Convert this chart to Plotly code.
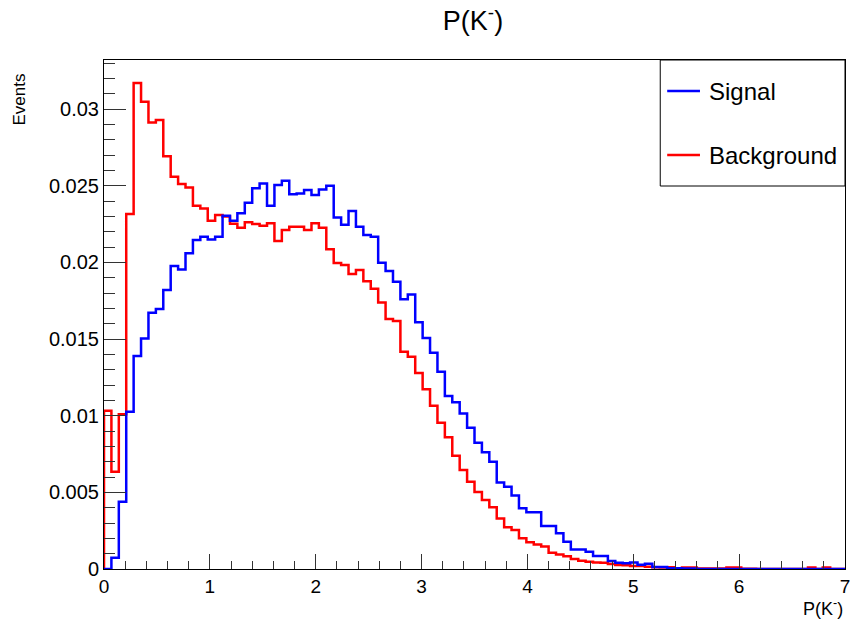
import numpy as np
import plotly.graph_objects as go

# Histogram: 100 bins from 0 to 7
x_min, x_max, n_bins = 0.0, 7.0, 100

signal = [
    0.0, 0.00074, 0.00439, 0.01026, 0.01389, 0.01504, 0.01672, 0.01696, 0.0182, 0.01976,
    0.01954, 0.02059, 0.02146, 0.02167, 0.0215, 0.02167, 0.02304, 0.02272, 0.0232, 0.02389,
    0.02483, 0.02515, 0.0237, 0.02504, 0.02533, 0.02444, 0.0245, 0.02472, 0.02439, 0.02476,
    0.025, 0.02293, 0.02245, 0.02335, 0.02233, 0.02178, 0.02167, 0.01998, 0.01944, 0.01874,
    0.01759, 0.01791, 0.01609, 0.01506, 0.0141, 0.01287, 0.01129, 0.01087, 0.01015, 0.00922,
    0.00824, 0.00761, 0.007, 0.00564, 0.00537, 0.0048, 0.00396, 0.0037, 0.0037, 0.0028,
    0.0028, 0.00233, 0.00178, 0.00128, 0.00128, 0.00113, 0.00085, 0.00085, 0.00052, 0.0004,
    0.00037, 0.00042, 0.00028, 0.00035, 0.00013, 0.00013, 0.00005, 0.00005, 0.00003, 0.00003,
    0.0, 0.0, 0.0, 0.0, 0.0, 0.0, 0.0, 0.0, 0.0, 0.0,
    0.0, 0.0, 0.0, 0.0, 0.0, 0.0, 0.0, 0.0, 0.0, 0.0,
]

background = [
    0.01033, 0.00635, 0.01009, 0.02315, 0.0317, 0.03048, 0.02913, 0.02928, 0.02693, 0.02559,
    0.02511, 0.02489, 0.0237, 0.02352, 0.02272, 0.02309, 0.0230, 0.02252, 0.02226, 0.02261,
    0.0225, 0.02239, 0.02255, 0.02139, 0.02211, 0.02233, 0.02233, 0.02211, 0.02255, 0.02226,
    0.02086, 0.01996, 0.01983, 0.01924, 0.0195, 0.01877, 0.01828, 0.01738, 0.0163, 0.01618,
    0.01417, 0.01385, 0.01278, 0.01172, 0.01065, 0.00954, 0.00859, 0.00739, 0.00646, 0.00569,
    0.00502, 0.0045, 0.00402, 0.0033, 0.00272, 0.00254, 0.002, 0.00174, 0.0016, 0.00146,
    0.00106, 0.00095, 0.00083, 0.00065, 0.00054, 0.00048, 0.00042, 0.0004, 0.00032, 0.00026,
    0.00024, 0.0002, 0.0002, 0.00015, 0.00012, 0.0001, 0.00012, 0.00005, 0.0001, 0.0001,
    0.00003, 0.00003, 0.00003, 0.00003, 0.0001, 0.0001, 0.00002, 0.00002, 0.0, 0.0,
    0.0, 0.0, 0.0, 0.0, 0.0, 0.0001, 0.0, 0.0001, 0.0, 0.0,
]

series_names = ["Signal", "Background"]
series_colors = ["#0000ff", "#ff0000"]

edges = np.linspace(x_min, x_max, n_bins + 1)


def step_xy(values):
    xs = [edges[0]] + list(edges[:-1]) + [edges[-1]]
    ys = [0.0] + list(values) + [0.0]
    return xs, ys


fig = go.Figure()
# background drawn first, signal on top
for name, vals, col in [(series_names[1], background, series_colors[1]),
                        (series_names[0], signal, series_colors[0])]:
    xs, ys = step_xy(vals)
    fig.add_trace(go.Scatter(x=xs, y=ys, mode="lines", name=name,
                             line=dict(color=col, width=2.5, shape="hv"),
                             showlegend=False, hoverinfo="skip"))

font_family = "Liberation Sans, Arial, Helvetica, sans-serif"

# frame geometry in pixels (for layout only)
W, H = 856, 623
L, R, T, B = 104, 850, 60, 569
pw, ph = R - L, B - T


def px(xp):
    return (xp - L) / pw


def py(yp):
    return (B - yp) / ph


shapes = []
annotations = []
# legend box
shapes.append(dict(type="rect", xref="paper", yref="paper",
                   x0=px(664), x1=1.0, y0=py(186), y1=1.0,
                   line=dict(color="black", width=1), fillcolor="white", layer="above"))
for i, (name, col) in enumerate(zip(series_names, series_colors)):
    yy = py(91 + 64 * i)
    shapes.append(dict(type="line", xref="paper", yref="paper",
                       x0=px(671), x1=px(704), y0=yy, y1=yy,
                       line=dict(color=col, width=2.5), layer="above"))
    annotations.append(dict(text=name, xref="paper", yref="paper", x=px(711), y=yy,
                            xanchor="left", yanchor="middle", showarrow=False,
                            font=dict(size=24, color="black", family=font_family)))

# axis titles
annotations.append(dict(text="P(K<sup>-</sup>)", xref="paper", yref="paper",
                        x=1.0, y=py(607), xanchor="right", yanchor="middle", showarrow=False,
                        font=dict(size=18, color="black", family=font_family)))
annotations.append(dict(text="Events", xref="paper", yref="paper",
                        x=px(18), y=py(100), xanchor="center", yanchor="middle",
                        textangle=-90, showarrow=False,
                        font=dict(size=17, color="black", family=font_family)))

fig.update_layout(
    width=W, height=H,
    margin=dict(l=L, r=W - R, t=T, b=H - B),
    paper_bgcolor="white", plot_bgcolor="white",
    title=dict(text="P(K<sup>-</sup>)", x=473 / W, y=1 - 21 / H,
               xanchor="center", yanchor="middle",
               font=dict(size=27, color="black", family=font_family)),
    font=dict(family=font_family, color="black"),
    shapes=shapes, annotations=annotations,
    showlegend=False,
)

fig.update_xaxes(range=[x_min, x_max], dtick=1, tick0=0,
                 showgrid=False, zeroline=False,
                 showline=True, linecolor="black", linewidth=1, mirror=True,
                 ticks="inside", ticklen=15, tickcolor="#333333", tickwidth=1,
                 ticklabeloverflow="allow",
                 tickfont=dict(size=19, color="black", family=font_family),
                 minor=dict(ticks="inside", ticklen=8, dtick=0.2, tickcolor="#333333",
                            showgrid=False))
fig.update_yaxes(range=[0, 0.0332], dtick=0.005, tick0=0,
                 showgrid=False, zeroline=False,
                 showline=True, linecolor="black", linewidth=1, mirror=True,
                 ticks="inside", ticklen=22, tickcolor="#333333", tickwidth=1,
                 tickfont=dict(size=20, color="black", family=font_family),
                 minor=dict(ticks="inside", ticklen=11, dtick=0.001, tickcolor="#333333",
                            showgrid=False))

post_js = (
    "document.documentElement.style.overflow='hidden';"
    "document.body.style.margin='0px';"
    "document.body.style.overflow='hidden';"
    "document.querySelectorAll('.plotly-graph-div, .svg-container').forEach("
    "function(d){d.style.overflow='hidden';});"
)

fig.write_html("out.html", config={"displayModeBar": False}, post_script=post_js)
